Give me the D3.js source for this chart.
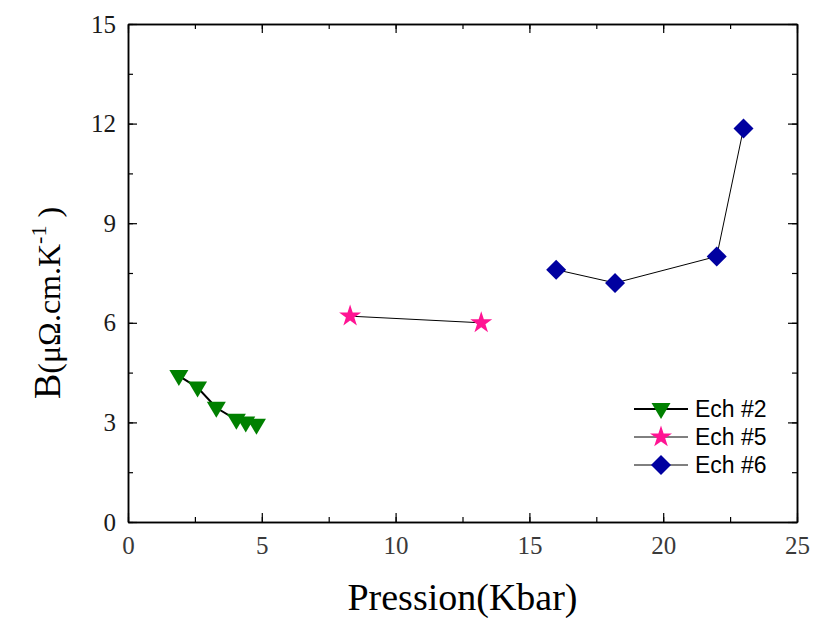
<!DOCTYPE html>
<html><head><meta charset="utf-8">
<script src="https://cdn.jsdelivr.net/npm/d3@7"></script>
<style>body{margin:0;background:#fff}</style>
</head><body>
<script>
const ech2X = [1.9, 2.6, 3.3, 4.05, 4.4, 4.8];
const ech2Y = [4.4, 4.05, 3.44, 3.08, 3.0, 2.93];
const ech5X = [8.3, 13.2];
const ech5Y = [6.2, 6.0];
const ech6X = [16.0, 18.2, 22.0, 23.0];
const ech6Y = [7.6, 7.2, 8.0, 11.85];
const seriesNames = ["Ech #2", "Ech #5", "Ech #6"];
const xTicks = [0, 5, 10, 15, 20, 25];
const yTicks = [0, 3, 6, 9, 12, 15];

const W = 816, H = 618;
const m = {l:128, r:19, t:24, b:96};
const svg = d3.select("body").append("svg").attr("width", W).attr("height", H);
const x = d3.scaleLinear().domain([0,25]).range([m.l, W-m.r]);
const y = d3.scaleLinear().domain([0,15]).range([H-m.b, m.t]);

const g = svg.append("g");
const xMinor = d3.range(0, 25.01, 2.5);
const yMinor = d3.range(0, 15.01, 1.5);
function styleAxis(sel){
  sel.select(".domain").attr("stroke","#000").attr("stroke-width",1.5);
  sel.selectAll(".tick line").attr("stroke","#000").attr("stroke-width",1.2);
}
const fontTicks = "'Liberation Serif','Times New Roman',serif";
// bottom
const axB = g.append("g").attr("transform",`translate(0,${y(0)})`)
  .call(d3.axisBottom(x).tickValues(xMinor).tickSizeInner(-5).tickSizeOuter(0).tickFormat(""));
styleAxis(axB);
const axB2 = g.append("g").attr("transform",`translate(0,${y(0)})`)
  .call(d3.axisBottom(x).tickValues(xTicks).tickSizeInner(-9).tickSizeOuter(0).tickPadding(14));
styleAxis(axB2);
axB2.selectAll("text").attr("font-family",fontTicks).attr("font-size",25).attr("fill","#3a3a3a");
// top
const axT = g.append("g").attr("transform",`translate(0,${y(15)})`)
  .call(d3.axisTop(x).tickValues(xMinor).tickSizeInner(-5).tickSizeOuter(0).tickFormat(""));
styleAxis(axT);
const axT2 = g.append("g").attr("transform",`translate(0,${y(15)})`)
  .call(d3.axisTop(x).tickValues(xTicks).tickSizeInner(-9).tickSizeOuter(0).tickFormat(""));
styleAxis(axT2);
// left
const axL = g.append("g").attr("transform",`translate(${x(0)},0)`)
  .call(d3.axisLeft(y).tickValues(yMinor).tickSizeInner(-5).tickSizeOuter(0).tickFormat(""));
styleAxis(axL);
const axL2 = g.append("g").attr("transform",`translate(${x(0)},0)`)
  .call(d3.axisLeft(y).tickValues(yTicks).tickSizeInner(-9).tickSizeOuter(0).tickPadding(12));
styleAxis(axL2);
axL2.selectAll("text").attr("font-family",fontTicks).attr("font-size",25).attr("fill","#1a1a1a");
// right
const axR = g.append("g").attr("transform",`translate(${x(25)},0)`)
  .call(d3.axisRight(y).tickValues(yMinor).tickSizeInner(-5).tickSizeOuter(0).tickFormat(""));
styleAxis(axR);
const axR2 = g.append("g").attr("transform",`translate(${x(25)},0)`)
  .call(d3.axisRight(y).tickValues(yTicks).tickSizeInner(-9).tickSizeOuter(0).tickFormat(""));
styleAxis(axR2);

// series
const series = [
  {xs: ech2X, ys: ech2Y, color:"#008000", sym: "tri", lw: 2},
  {xs: ech5X, ys: ech5Y, color:"#ff1493", sym: d3.symbolStar, lw: 1},
  {xs: ech6X, ys: ech6Y, color:"#0000a0", sym: "diamond", lw: 1}
];
const line = d3.line().x(d=>x(d[0])).y(d=>y(d[1]));
function drawMarker(sel, s){
  if (s.sym === "tri") {
    sel.append("path").attr("d","M-9.5,-6 L9.5,-6 L0,10 Z").attr("fill",s.color);
  } else if (s.sym === "diamond") {
    sel.append("path").attr("d","M0,-10 L10,0 L0,10 L-10,0 Z").attr("fill",s.color);
  } else {
    sel.append("path").attr("d", d3.symbol().type(s.sym).size(150)()).attr("fill",s.color);
  }
}
series.forEach(s=>{
  const pts = s.xs.map((v,i)=>[v, s.ys[i]]);
  g.append("path").attr("d", line(pts)).attr("fill","none").attr("stroke","#000").attr("stroke-width",s.lw);
  pts.forEach(p=>{
    const mk = g.append("g").attr("transform",`translate(${x(p[0])},${y(p[1])})`);
    drawMarker(mk, s);
  });
});

// legend
const lg = svg.append("g");
series.forEach((s,i)=>{
  const yy = 409 + i*28;
  lg.append("line").attr("x1",634).attr("x2",688).attr("y1",yy).attr("y2",yy)
    .attr("stroke","#000").attr("stroke-width", i===0?2:1);
  const mk = lg.append("g").attr("transform",`translate(661,${yy})`);
  drawMarker(mk, s);
  lg.append("text").attr("x",695).attr("y",yy+8).text(seriesNames[i])
    .attr("font-family","'Liberation Sans',Arial,sans-serif").attr("font-size",23).attr("fill","#000");
});

// axis titles
svg.append("text").attr("x", x(12.5)).attr("y", 610).attr("text-anchor","middle")
  .attr("font-family",fontTicks).attr("font-size",38).attr("fill","#000").text("Pression(Kbar)");
const yl = svg.append("text").attr("transform","translate(60,303) rotate(-90)").attr("text-anchor","middle")
  .attr("font-family",fontTicks).attr("fill","#000");
yl.append("tspan").attr("font-size",38).text("B");
yl.append("tspan").attr("font-size",32).text("(μΩ.cm.K");
yl.append("tspan").attr("font-size",22).attr("dy",-14).text("-1");
yl.append("tspan").attr("font-size",32).attr("dy",14).text(" )");
</script>
</body></html>
